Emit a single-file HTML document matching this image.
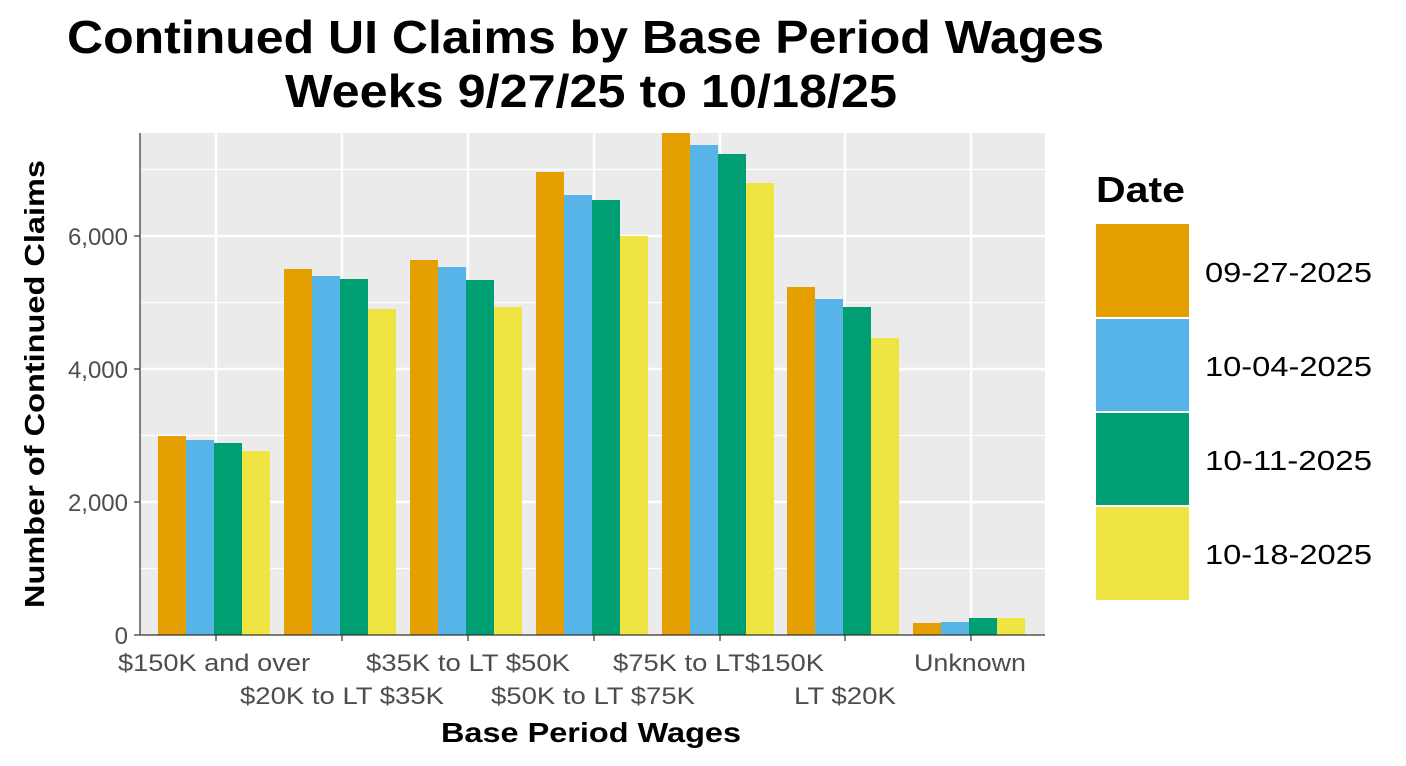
<!DOCTYPE html>
<html><head><meta charset="utf-8"><style>body{margin:0;background:#fff}svg{display:block}</style></head>
<body>
<svg width="1406" height="766" xmlns="http://www.w3.org/2000/svg" font-family="Liberation Sans, Arial, sans-serif">
<rect width="1406" height="766" fill="#fff"/>
<text x="67" y="53" font-size="46" font-weight="bold" textLength="1037" lengthAdjust="spacingAndGlyphs">Continued UI Claims by Base Period Wages</text>
<text x="285" y="107" font-size="46" font-weight="bold" textLength="612" lengthAdjust="spacingAndGlyphs">Weeks 9/27/25 to 10/18/25</text>
<rect x="140" y="133" width="905" height="502" fill="#EBEBEB"/>
<g stroke="#fff" stroke-width="1.2">
<line x1="140" x2="1045" y1="568.5" y2="568.5"/><line x1="140" x2="1045" y1="435.5" y2="435.5"/><line x1="140" x2="1045" y1="302.5" y2="302.5"/><line x1="140" x2="1045" y1="169.5" y2="169.5"/>
</g>
<g stroke="#fff" stroke-width="2.4">
<line x1="140" x2="1045" y1="502" y2="502"/><line x1="140" x2="1045" y1="369" y2="369"/><line x1="140" x2="1045" y1="236" y2="236"/>
<line x1="216" x2="216" y1="133" y2="635"/><line x1="342" x2="342" y1="133" y2="635"/><line x1="468" x2="468" y1="133" y2="635"/><line x1="594" x2="594" y1="133" y2="635"/><line x1="720" x2="720" y1="133" y2="635"/><line x1="845" x2="845" y1="133" y2="635"/><line x1="971" x2="971" y1="133" y2="635"/>
</g>
<g>
<rect x="158" y="436" width="28" height="199" fill="#E69F00"/><rect x="186" y="440" width="28" height="195" fill="#56B4E9"/><rect x="214" y="443" width="28" height="192" fill="#009E73"/><rect x="242" y="451" width="28" height="184" fill="#F0E442"/>
<rect x="284" y="269" width="28" height="366" fill="#E69F00"/><rect x="312" y="276" width="28" height="359" fill="#56B4E9"/><rect x="340" y="279" width="28" height="356" fill="#009E73"/><rect x="368" y="309" width="28" height="326" fill="#F0E442"/>
<rect x="410" y="260" width="28" height="375" fill="#E69F00"/><rect x="438" y="267" width="28" height="368" fill="#56B4E9"/><rect x="466" y="280" width="28" height="355" fill="#009E73"/><rect x="494" y="307" width="28" height="328" fill="#F0E442"/>
<rect x="536" y="172" width="28" height="463" fill="#E69F00"/><rect x="564" y="195" width="28" height="440" fill="#56B4E9"/><rect x="592" y="200" width="28" height="435" fill="#009E73"/><rect x="620" y="236" width="28" height="399" fill="#F0E442"/>
<rect x="662" y="133" width="28" height="502" fill="#E69F00"/><rect x="690" y="145" width="28" height="490" fill="#56B4E9"/><rect x="718" y="154" width="28" height="481" fill="#009E73"/><rect x="746" y="183" width="28" height="452" fill="#F0E442"/>
<rect x="787" y="287" width="28" height="348" fill="#E69F00"/><rect x="815" y="299" width="28" height="336" fill="#56B4E9"/><rect x="843" y="307" width="28" height="328" fill="#009E73"/><rect x="871" y="338" width="28" height="297" fill="#F0E442"/>
<rect x="913" y="623" width="28" height="12" fill="#E69F00"/><rect x="941" y="622" width="28" height="13" fill="#56B4E9"/><rect x="969" y="618" width="28" height="17" fill="#009E73"/><rect x="997" y="618" width="28" height="17" fill="#F0E442"/>
</g>
<line x1="140" x2="1045" y1="635" y2="635" stroke="#333" stroke-width="1.2"/>
<line x1="140" x2="140" y1="133" y2="635" stroke="#333" stroke-width="1.2"/>
<g stroke="#333" stroke-width="1.2">
<line x1="134" x2="140" y1="635" y2="635"/><line x1="134" x2="140" y1="502" y2="502"/><line x1="134" x2="140" y1="369" y2="369"/><line x1="134" x2="140" y1="236" y2="236"/>
<line x1="216" x2="216" y1="635" y2="641"/><line x1="342" x2="342" y1="635" y2="641"/><line x1="468" x2="468" y1="635" y2="641"/><line x1="594" x2="594" y1="635" y2="641"/><line x1="720" x2="720" y1="635" y2="641"/><line x1="845" x2="845" y1="635" y2="641"/><line x1="971" x2="971" y1="635" y2="641"/>
</g>
<g font-size="24" fill="#4D4D4D" text-anchor="end">
<text x="128" y="644">0</text><text x="128" y="511">2,000</text><text x="128" y="378">4,000</text><text x="128" y="245">6,000</text>
</g>
<g font-size="24" fill="#4D4D4D" lengthAdjust="spacingAndGlyphs">
<text x="118" y="671" textLength="192" lengthAdjust="spacingAndGlyphs">$150K and over</text>
<text x="240" y="704" textLength="204" lengthAdjust="spacingAndGlyphs">$20K to LT $35K</text>
<text x="366" y="671" textLength="204" lengthAdjust="spacingAndGlyphs">$35K to LT $50K</text>
<text x="491" y="704" textLength="204" lengthAdjust="spacingAndGlyphs">$50K to LT $75K</text>
<text x="613" y="671" textLength="211" lengthAdjust="spacingAndGlyphs">$75K to LT$150K</text>
<text x="794" y="704" textLength="102" lengthAdjust="spacingAndGlyphs">LT $20K</text>
<text x="914" y="671" textLength="112" lengthAdjust="spacingAndGlyphs">Unknown</text>
</g>
<text x="441" y="742" font-size="28" font-weight="bold" textLength="300" lengthAdjust="spacingAndGlyphs">Base Period Wages</text>
<text transform="translate(44,608) rotate(-90)" font-size="28" font-weight="bold" textLength="448" lengthAdjust="spacingAndGlyphs">Number of Continued Claims</text>
<text x="1096" y="202" font-size="36" font-weight="bold" textLength="89" lengthAdjust="spacingAndGlyphs">Date</text>
<rect x="1096" y="224" width="93" height="93" fill="#E69F00"/>
<rect x="1096" y="319" width="93" height="92" fill="#56B4E9"/>
<rect x="1096" y="413" width="93" height="92" fill="#009E73"/>
<rect x="1096" y="507" width="93" height="93" fill="#F0E442"/>
<g font-size="28">
<text x="1205" y="282" textLength="167" lengthAdjust="spacingAndGlyphs">09-27-2025</text><text x="1205" y="376" textLength="167" lengthAdjust="spacingAndGlyphs">10-04-2025</text><text x="1205" y="470" textLength="167" lengthAdjust="spacingAndGlyphs">10-11-2025</text><text x="1205" y="564" textLength="167" lengthAdjust="spacingAndGlyphs">10-18-2025</text>
</g>
</svg>
</body></html>
